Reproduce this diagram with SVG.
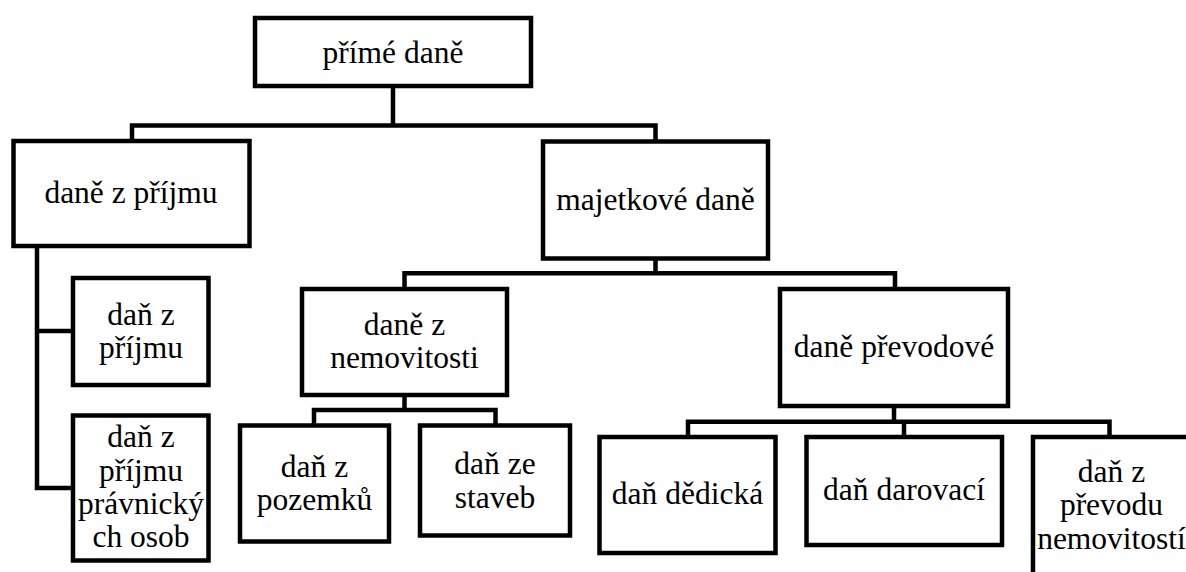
<svg xmlns="http://www.w3.org/2000/svg" width="1186" height="572" viewBox="0 0 1186 572">
  <style>
    .box { fill: #ffffff; stroke: #000000; stroke-width: 4.5; }
    .link { fill: none; stroke: #000000; stroke-width: 4.5; stroke-linejoin: miter; }
  </style>
  <rect width="1186" height="572" fill="#ffffff"/>

  <!-- tree connectors -->
  <g id="connectors">
    <path class="link" d="M393 86 V125.5 M132 141 V125.5 H655.5 V141.5"/>
    <path class="link" d="M655.5 258.5 V273.3 M404.5 289 V273.3 H895 V289"/>
    <path class="link" d="M37 246 V488 H73 M37 331 H73"/>
    <path class="link" d="M404.5 395 V410 M314 425.5 V410 H495.5 V425.5"/>
    <path class="link" d="M894 406 V421.7 M688 437 V421.7 H1109.5 V437 M904 421.7 V437"/>
  </g>

  <g font-family="Liberation Serif, Times New Roman, serif" font-size="31.5" fill="#000000" text-anchor="middle">
  <g id="prime-dane">
    <rect class="box" x="255" y="18" width="276" height="68"/>
    <text x="393" y="63">přímé daně</text>
  </g>

  <g id="dane-z-prijmu">
    <rect class="box" x="13.5" y="141" width="236" height="105"/>
    <text x="131" y="203">daně z příjmu</text>
  </g>

  <g id="majetkove-dane">
    <rect class="box" x="543" y="141.5" width="225" height="117"/>
    <text x="655.5" y="210">majetkové daně</text>
  </g>

  <g id="dan-z-prijmu-fo">
    <rect class="box" x="73" y="278" width="135.5" height="107"/>
    <text x="141" y="325">daň z</text>
    <text x="141" y="358">příjmu</text>
  </g>

  <g id="dan-z-prijmu-po">
    <rect class="box" x="73" y="415.5" width="135.5" height="145"/>
    <text x="141" y="447">daň z</text>
    <text x="141" y="480.5">příjmu</text>
    <text x="141" y="514">právnický</text>
    <text x="141" y="547">ch osob</text>
  </g>

  <g id="dane-z-nemovitosti">
    <rect class="box" x="302" y="289" width="205" height="106"/>
    <text x="404.5" y="335">daně z</text>
    <text x="404.5" y="368">nemovitosti</text>
  </g>

  <g id="dan-z-pozemku">
    <rect class="box" x="240" y="425.5" width="149" height="116"/>
    <text x="314.5" y="477">daň z</text>
    <text x="314.5" y="510">pozemků</text>
  </g>

  <g id="dan-ze-staveb">
    <rect class="box" x="420" y="425.5" width="150" height="110"/>
    <text x="495" y="474">daň ze</text>
    <text x="495" y="507.5">staveb</text>
  </g>

  <g id="dane-prevodove">
    <rect class="box" x="780" y="289" width="228" height="117"/>
    <text x="894" y="357">daně převodové</text>
  </g>

  <g id="dan-dedicka">
    <rect class="box" x="599.5" y="437" width="176" height="116"/>
    <text x="687.5" y="504">daň dědická</text>
  </g>

  <g id="dan-darovaci">
    <rect class="box" x="806.5" y="437" width="195.5" height="108"/>
    <text x="904" y="500">daň darovací</text>
  </g>

  <g id="dan-z-prevodu-nemovitosti">
    <rect class="box" x="1033" y="437" width="170" height="150"/>
    <text x="1111.5" y="481.5">daň z</text>
    <text x="1111.5" y="515">převodu</text>
    <text x="1111.5" y="548.5">nemovitostí</text>
  </g>
  </g>
</svg>
